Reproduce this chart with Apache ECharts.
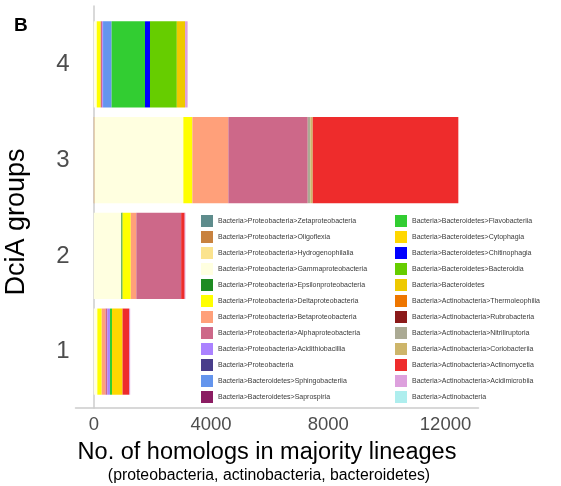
<!DOCTYPE html>
<html>
<head>
<meta charset="utf-8">
<script src="https://cdn.jsdelivr.net/npm/echarts@6/dist/echarts.min.js"></script>
<style>
  html, body { margin: 0; padding: 0; background: #fff; }
  #chart { width: 561px; height: 486px; }
</style>
</head>
<body>
<div id="chart"></div>
<script>
// DciA groups, bottom to top
const groups = ['1', '2', '3', '4']

// lineages in stacking / legend order
const lineages = [
  'Bacteria>Proteobacteria>Zetaproteobacteria',
  'Bacteria>Proteobacteria>Oligoflexia',
  'Bacteria>Proteobacteria>Hydrogenophilalia',
  'Bacteria>Proteobacteria>Gammaproteobacteria',
  'Bacteria>Proteobacteria>Epsilonproteobacteria',
  'Bacteria>Proteobacteria>Deltaproteobacteria',
  'Bacteria>Proteobacteria>Betaproteobacteria',
  'Bacteria>Proteobacteria>Alphaproteobacteria',
  'Bacteria>Proteobacteria>Acidithiobacillia',
  'Bacteria>Proteobacteria',
  'Bacteria>Bacteroidetes>Sphingobacteriia',
  'Bacteria>Bacteroidetes>Saprospiria',
  'Bacteria>Bacteroidetes>Flavobacteriia',
  'Bacteria>Bacteroidetes>Cytophagia',
  'Bacteria>Bacteroidetes>Chitinophagia',
  'Bacteria>Bacteroidetes>Bacteroidia',
  'Bacteria>Bacteroidetes',
  'Bacteria>Actinobacteria>Thermoleophilia',
  'Bacteria>Actinobacteria>Rubrobacteria',
  'Bacteria>Actinobacteria>Nitriliruptoria',
  'Bacteria>Actinobacteria>Coriobacteriia',
  'Bacteria>Actinobacteria>Actinomycetia',
  'Bacteria>Actinobacteria>Acidimicrobiia',
  'Bacteria>Actinobacteria'
]

// homolog counts per lineage (same order as lineages)
const group1 = [0, 0, 0, 120, 0, 150, 130, 60, 90, 0, 0, 0, 70, 360, 0, 0, 0, 0, 0, 0, 0, 220, 40, 0]
const group2 = [0, 0, 0, 940, 40, 280, 190, 1530, 0, 0, 0, 0, 0, 0, 0, 0, 0, 0, 0, 0, 0, 120, 25, 0]
const group3 = [0, 25, 0, 3030, 0, 307, 1228, 2709, 0, 0, 0, 0, 0, 0, 0, 0, 0, 0, 0, 90, 80, 4968, 0, 0]
const group4 = [0, 0, 0, 100, 0, 135, 0, 50, 30, 0, 292, 0, 1140, 0, 170, 915, 280, 0, 0, 0, 0, 0, 88, 0]

const xTicks = [0, 4000, 8000, 12000]

const colors = [
  '#5E8C8C', '#C8823F', '#FBE38E', '#FFFFE0', '#1E8B22', '#FFFF00',
  '#FFA07A', '#CD6889', '#AB82FF', '#483D8B', '#6495ED', '#8B1C62',
  '#32CD32', '#FFD700', '#0000FF', '#66CD00', '#EEC900', '#EE7600',
  '#8B1A1A', '#ABAA94', '#CDB56A', '#EE2C2C', '#DDA0DD', '#AEEEEE'
]

const counts = [group1, group2, group3, group4]
const font = 'Liberation Sans, Arial, Helvetica, sans-serif'

const myChart = echarts.init(document.getElementById('chart'))

const seriesData = lineages.map((name, i) => ({
  name: name,
  type: 'bar',
  stack: 'total',
  xAxisIndex: 1,
  yAxisIndex: 1,
  barWidth: '90%',
  itemStyle: { color: colors[i] },
  emphasis: { disabled: true },
  data: counts.map(g => g[i])
}))

const legendBase = {
  orient: 'vertical',
  icon: 'rect',
  itemWidth: 12,
  itemHeight: 12,
  itemGap: 4,
  padding: 0,
  selectedMode: false,
  textStyle: { fontSize: 7, color: '#3a3a3a', fontFamily: font }
}

myChart.setOption({
  animation: false,
  color: colors,
  title: [
    { text: 'B', left: 9, top: 11, textStyle: { fontSize: 19, fontWeight: 'bold', color: '#000', fontFamily: font } },
    { text: 'No. of homologs in majority lineages', left: 267, top: 441, textAlign: 'center', padding: 0,
      textStyle: { fontSize: 23.5, fontWeight: 'normal', color: '#000', fontFamily: font } },
    { text: '(proteobacteria, actinobacteria, bacteroidetes)', left: 269, top: 468, textAlign: 'center', padding: 0,
      textStyle: { fontSize: 15.8, fontWeight: 'normal', color: '#000', fontFamily: font } }
  ],
  graphic: [
    {
      type: 'text',
      x: 17,
      y: 222,
      rotation: Math.PI / 2,
      style: {
        text: 'DciA groups',
        align: 'center',
        verticalAlign: 'middle',
        fontSize: 27,
        fontFamily: font,
        fill: '#000'
      }
    }
  ],
  legend: [
    Object.assign({}, legendBase, { left: 201, top: 215, data: lineages.slice(0, 12) }),
    Object.assign({}, legendBase, { left: 395, top: 215, data: lineages.slice(12) })
  ],
  grid: [
    { left: 75.5, top: 6, width: 403, height: 402 },
    { left: 75.5, top: 16.5, width: 403, height: 383 }
  ],
  xAxis: [
    {
      gridIndex: 0,
      type: 'value',
      min: -625,
      max: 13125,
      axisLine: { show: true, lineStyle: { color: '#cccccc', width: 1.5 } },
      axisTick: { show: false },
      splitLine: { show: false },
      axisLabel: {
        customValues: xTicks,
        formatter: v => String(v),
        color: '#4D4D4D',
        fontSize: 18.5,
        margin: 7,
        fontFamily: font
      }
    },
    { gridIndex: 1, type: 'value', min: -625, max: 13125, show: false }
  ],
  yAxis: [
    {
      gridIndex: 0,
      type: 'value',
      min: 0,
      max: 1,
      axisLine: { show: true, lineStyle: { color: '#cccccc', width: 1.5 } },
      axisTick: { show: false },
      splitLine: { show: false },
      axisLabel: { show: false }
    },
    {
      gridIndex: 1,
      type: 'category',
      data: groups,
      axisLine: { show: false },
      axisTick: { show: false },
      splitLine: { show: false },
      axisLabel: { color: '#4D4D4D', fontSize: 24, margin: 6, fontFamily: font }
    }
  ],
  series: seriesData
})
</script>
</body>
</html>
